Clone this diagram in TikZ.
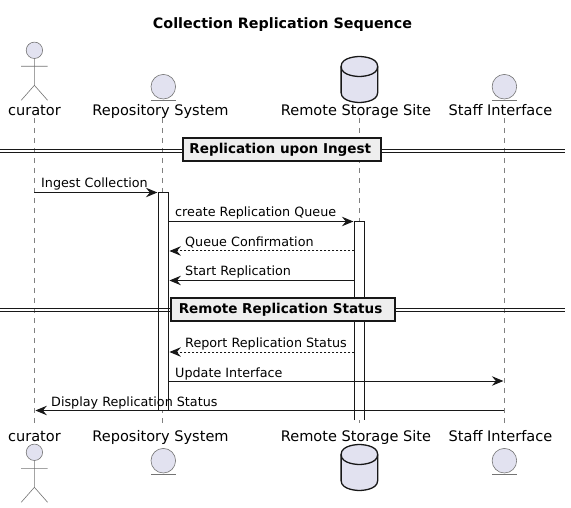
\documentclass[tikz,border=0pt]{standalone}
\usepackage{fontspec}
\setmainfont{DejaVu Sans}
\usetikzlibrary{arrows.meta}
\definecolor{partfill}{HTML}{E2E2F0}
\definecolor{ink}{HTML}{181818}
\definecolor{divfill}{HTML}{EEEEEE}
\tikzset{
  x=1pt,y=-1pt,
  lifeline/.style={draw=ink!55,line width=0.7pt,dash pattern=on 5pt off 5pt},
  actorline/.style={draw=ink!60,fill=partfill,line width=0.6pt},
  dbshape/.style={draw=ink,fill=partfill,line width=1.3pt},
  plabel/.style={font=\fontsize{14.55}{16}\selectfont,text=black,inner sep=0pt,anchor=base},
  mlabel/.style={font=\fontsize{12.75}{15}\selectfont,text=black,inner sep=0pt,anchor=base west},
  msg/.style={draw=ink,line width=1pt,-{Stealth[length=11.5pt,width=9.5pt,inset=4pt,fill=ink]}},
  dashmsg/.style={msg,dash pattern=on 2pt off 2pt},
  actbox/.style={draw=ink,fill=white,line width=1pt},
  divbox/.style={draw=ink,fill=divfill,line width=2pt,inner sep=0pt,minimum height=23pt,font=\fontsize{13.55}{15}\selectfont\bfseries,text=black},
  divline/.style={draw=ink,line width=1pt},
}
\newcommand{\myactor}[2]{% x, head y
  \draw[actorline] (#1,#2) circle (8.2);
  \draw[actorline,fill=none] (#1,#2+8.2) -- (#1,#2+35) (#1-13.2,#2+16) -- (#1+13.2,#2+16)
     (#1-13.2,#2+50) -- (#1,#2+35) -- (#1+13.2,#2+50);
}
\newcommand{\myentity}[2]{% x, centre y
  \draw[actorline] (#1,#2) circle (12.3);
  \draw[actorline,fill=none] (#1-12.3,#2+13.5) -- (#1+12.3,#2+13.5);
}
\newcommand{\mydb}[2]{% x, top y
  \path[dbshape] (#1-18.3,#2+10) .. controls (#1-18.3,#2) and (#1,#2) .. (#1,#2)
     .. controls (#1,#2) and (#1+18.3,#2) .. (#1+18.3,#2+10)
     -- (#1+18.3,#2+36) .. controls (#1+18.3,#2+46) and (#1,#2+46) .. (#1,#2+46)
     .. controls (#1,#2+46) and (#1-18.3,#2+46) .. (#1-18.3,#2+36) -- cycle;
  \draw[dbshape,fill=none] (#1-18.3,#2+10) .. controls (#1-18.3,#2+20) and (#1,#2+20) .. (#1,#2+20)
     .. controls (#1,#2+20) and (#1+18.3,#2+20) .. (#1+18.3,#2+10);
}
\newcommand{\divtext}[1]{\hspace*{-4pt}\raisebox{-2.5pt}{#1}}
\begin{document}
\begin{tikzpicture}
\useasboundingbox[fill=white] (0,0) rectangle (571,508);
\node[font=\fontsize{14.3}{16}\selectfont\bfseries,text=black,inner sep=0pt,anchor=base] (title) at (282.5,28.5) {Collection Replication Sequence};
% top labels
\node[plabel] (curT) at (34.4,115.5) {curator};
\node[plabel] (repT) at (160.5,115.5) {Repository System};
\node[plabel] (remT) at (356,115.5) {Remote Storage Site};
\node[plabel] (stfT) at (500.5,115.5) {Staff Interface};
% bottom labels
\node[plabel] (curB) at (34.4,441.5) {curator};
\node[plabel] (repB) at (160.5,441.5) {Repository System};
\node[plabel] (remB) at (356,441.5) {Remote Storage Site};
\node[plabel] (stfB) at (500.5,441.5) {Staff Interface};
% lifelines
\coordinate (l1t) at (34.4,118); \coordinate (l1b) at (34.4,424);
\coordinate (l2t) at (162.4,118); \coordinate (l2b) at (162.4,424);
\coordinate (l3t) at (359.4,118); \coordinate (l3b) at (359.4,424);
\coordinate (l4t) at (504.4,118); \coordinate (l4b) at (504.4,424);
\draw[lifeline] (l1t) -- (l1b);
\draw[lifeline] (l2t) -- (l2b);
\draw[lifeline] (l3t) -- (l3b);
\draw[lifeline] (l4t) -- (l4b);
% participants
\myactor{34.4}{50.3}
\myactor{34.4}{452.3}
\myentity{163.3}{86.7}
\myentity{163.3}{460.7}
\mydb{359.4}{56.5}
\mydb{359.4}{444.5}
\myentity{504.4}{86.7}
\myentity{504.4}{460.7}
% activations (open at the bottom)
\fill[white] (158.4,192.5) rectangle (168.4,410.5);
\draw[actbox,fill=none] (158.4,410.5) -- (158.4,192.5) -- (168.4,192.5) -- (168.4,410.5);
\fill[white] (354.4,221.5) rectangle (364.4,420);
\draw[actbox,fill=none] (354.4,420) -- (354.4,221.5) -- (364.4,221.5) -- (364.4,420);
% messages
\coordinate (m1a) at (34.4,192.5); \coordinate (m1b) at (157.4,192.5);
\coordinate (m2a) at (168.4,221.5); \coordinate (m2b) at (353.4,221.5);
\coordinate (m3a) at (354.4,251); \coordinate (m3b) at (169.4,251);
\coordinate (m4a) at (354.4,280.5); \coordinate (m4b) at (169.4,280.5);
\coordinate (m5a) at (354.4,352); \coordinate (m5b) at (169.4,352);
\coordinate (m6a) at (168.4,381); \coordinate (m6b) at (503.4,381);
\coordinate (m7a) at (504.4,410.5); \coordinate (m7b) at (35.4,410.5);
\draw[msg] (m1a) -- (m1b);
\draw[msg] (m2a) -- (m2b);
\draw[dashmsg] (m3a) -- (m3b);
\draw[msg] (m4a) -- (m4b);
\draw[dashmsg] (m5a) -- (m5b);
\draw[msg] (m6a) -- (m6b);
\draw[msg] (m7a) -- (m7b);
\node[mlabel] (t1) at (41,188) {Ingest Collection};
\node[mlabel] (t2) at (175,217) {create Replication Queue};
\node[mlabel] (t3) at (185,246.5) {Queue Confirmation};
\node[mlabel] (t4) at (185,275.5) {Start Replication};
\node[mlabel] (t5) at (185,347) {Report Replication Status};
\node[mlabel] (t6) at (175,377) {Update Interface};
\node[mlabel] (t7) at (51,406) {Display Replication Status};
% dividers
\coordinate (d1l) at (0,149.7); \coordinate (d1r) at (565,149.7);
\coordinate (d1L) at (0,152.7); \coordinate (d1R) at (565,152.7);
\coordinate (d2l) at (0,308.7); \coordinate (d2r) at (565,308.7);
\coordinate (d2L) at (0,311.7); \coordinate (d2R) at (565,311.7);
\draw[divline] (d1l) -- (d1r);
\draw[divline] (d1L) -- (d1R);
\draw[divline] (d2l) -- (d2r);
\draw[divline] (d2L) -- (d2R);
\node[divbox,minimum width=198pt] (div1) at (282.3,149.7) {\divtext{Replication upon Ingest}};
\node[divbox,minimum width=224pt] (div2) at (282.6,309.8) {\divtext{Remote Replication Status}};
\end{tikzpicture}
\end{document}
